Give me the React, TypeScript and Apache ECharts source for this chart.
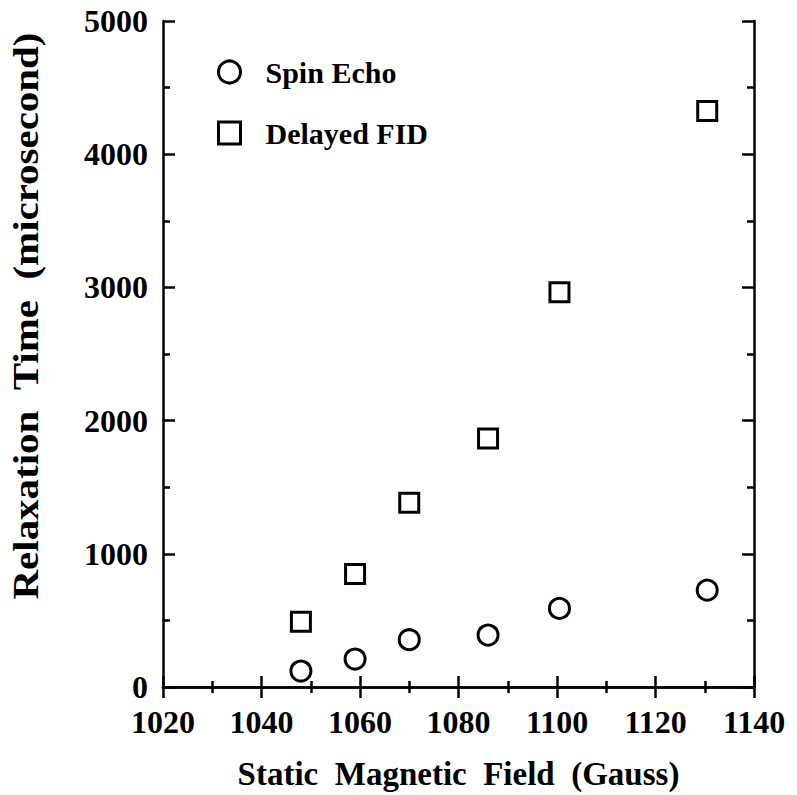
import React, { useEffect, useRef } from "react";
import * as echarts from "echarts";

const fieldGauss = [1048, 1059, 1070, 1086, 1100.5, 1130.5];
const spinEcho = [120, 210, 355, 390, 590, 727];
const delayedFID = [490, 849, 1384, 1866, 2963, 4325];
const seriesNames = ["Spin Echo", "Delayed FID"];
const xTitle = "Static\u00A0\u00A0Magnetic\u00A0\u00A0Field\u00A0\u00A0(Gauss)";
const yTitle = "Relaxation\u00A0\u00A0Time\u00A0\u00A0(microsecond)";

const FONT = '"Liberation Serif", "Times New Roman", serif';

export default function App() {
  const ref = useRef<HTMLDivElement>(null);
  useEffect(() => {
    if (!ref.current) return;
    const chart = echarts.init(ref.current, null, { renderer: "svg" });
    const axisLine = { show: true, lineStyle: { color: "#000", width: 2.5 } };
    const plain = (v: number) => String(v);
    const xCommon = {
      type: "value",
      min: 1020,
      max: 1140,
      interval: 20,
      axisLine,
      axisTick: { show: true, inside: true, length: 11, lineStyle: { color: "#000", width: 2.5 } },
      minorTick: { show: true, splitNumber: 2, length: 6, lineStyle: { color: "#000", width: 2.5 } },
      splitLine: { show: false },
      minorSplitLine: { show: false },
    };
    const yCommon = {
      type: "value",
      min: 0,
      max: 5000,
      interval: 1000,
      axisLine,
      axisTick: { show: true, inside: true, length: 12, lineStyle: { color: "#000", width: 2.5 } },
      minorTick: { show: true, splitNumber: 2, length: 7, lineStyle: { color: "#000", width: 2.5 } },
      splitLine: { show: false },
      minorSplitLine: { show: false },
    };
    const markerStyle = { color: "#fff", borderColor: "#000", borderWidth: 3, opacity: 1 };
    chart.setOption({
      animation: false,
      backgroundColor: "#fff",
      grid: { left: 163, right: 43, top: 21, bottom: 107, containLabel: false },
      legend: {
        orient: "vertical",
        left: 212,
        top: 52,
        itemWidth: 22,
        itemHeight: 22,
        itemGap: 31,
        data: [
          { name: seriesNames[0], icon: "circle" },
          { name: seriesNames[1], icon: "rect" },
        ],
        itemStyle: { color: "#fff", borderColor: "#000", borderWidth: 3, opacity: 1 },
        textStyle: {
          fontFamily: FONT,
          fontWeight: "bold",
          fontSize: 30,
          color: "#000",
          padding: [0, 0, 0, 20],
        },
      },
      xAxis: [
        {
          ...xCommon,
          position: "bottom",
          name: xTitle,
          nameLocation: "middle",
          nameGap: 70,
          nameTextStyle: { fontFamily: FONT, fontWeight: "bold", fontSize: 33, color: "#000" },
          axisLabel: {
            show: true,
            margin: 19,
            formatter: plain,
            fontFamily: FONT,
            fontWeight: "bold",
            fontSize: 32,
            color: "#000",
          },
        },
        { ...xCommon, position: "top", axisLabel: { show: false } },
      ],
      yAxis: [
        {
          ...yCommon,
          position: "left",
          axisLabel: {
            show: true,
            margin: 15,
            padding: [8, 0, 0, 0],
            formatter: plain,
            fontFamily: FONT,
            fontWeight: "bold",
            fontSize: 32,
            color: "#000",
          },
        },
        { ...yCommon, position: "right", axisLabel: { show: false } },
      ],
      graphic: [
        {
          type: "text",
          x: 26,
          y: 316,
          rotation: Math.PI / 2,
          scaleX: 1.17,
          style: {
            text: yTitle,
            fontFamily: FONT,
            fontWeight: "bold",
            fontSize: 35,
            fill: "#000",
            textAlign: "center",
            textVerticalAlign: "middle",
          },
        },
      ],
      series: [
        {
          name: seriesNames[0],
          type: "scatter",
          symbol: "circle",
          symbolSize: 20,
          itemStyle: markerStyle,
          data: fieldGauss.map((x, i) => [x, spinEcho[i]]),
        },
        {
          name: seriesNames[1],
          type: "scatter",
          symbol: "rect",
          symbolSize: 19,
          itemStyle: markerStyle,
          data: fieldGauss.map((x, i) => [x, delayedFID[i]]),
        },
      ],
    });
    return () => chart.dispose();
  }, []);
  return (
    <div
      ref={ref}
      style={{ position: "fixed", left: 0, top: 0, width: 797, height: 795, background: "#fff" }}
    />
  );
}
